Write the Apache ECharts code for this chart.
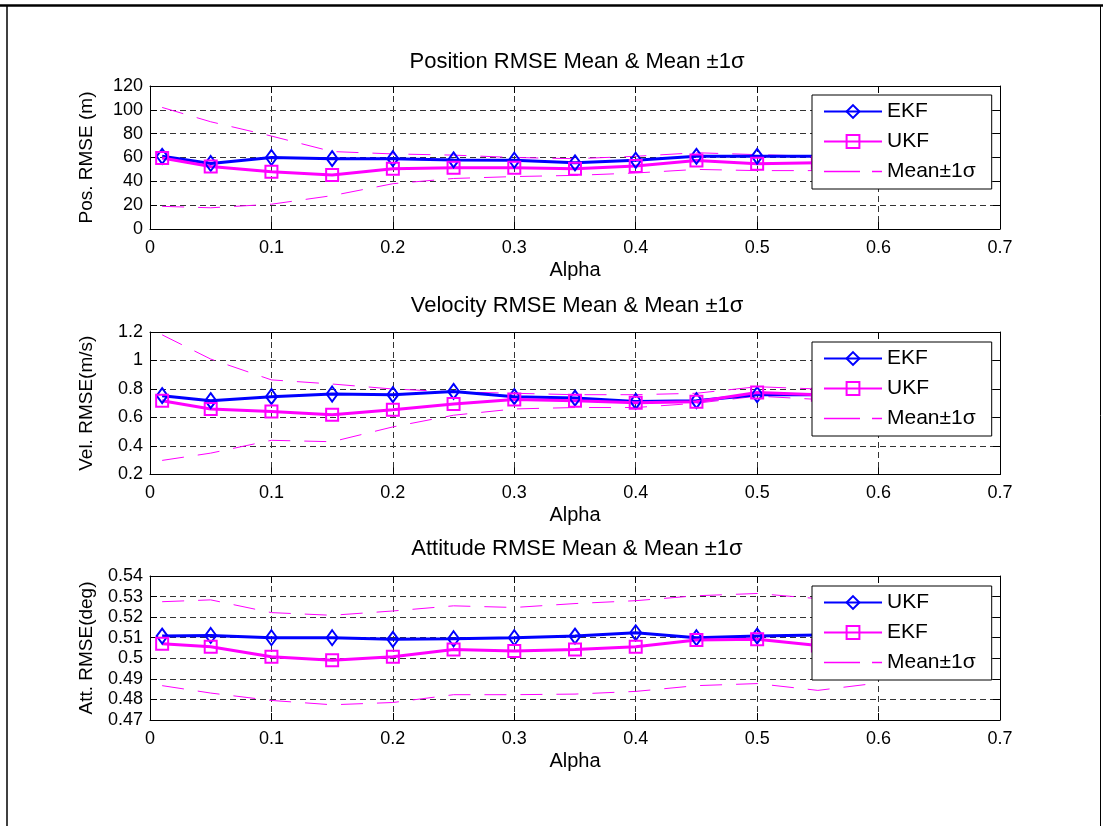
<!DOCTYPE html>
<html><head><meta charset="utf-8">
<script src="https://cdn.jsdelivr.net/npm/echarts@6/dist/echarts.min.js"></script>
<style>html,body{margin:0;padding:0;background:#fff}#c{width:1103px;height:826px}</style>
</head><body><div id="c"></div>
<script>
// ---- data ----
const alpha = [0.01,0.05,0.1,0.15,0.2,0.25,0.3,0.35,0.4,0.45,0.5,0.55,0.6];
const xTicks = [0,0.1,0.2,0.3,0.4,0.5,0.6,0.7];

const posEKF   = [61,55,60,59,59,58,57.7,55.5,57.7,61,61,61,61];
const posUKF   = [59.6,52.5,48,45.4,50.6,51.4,51.4,50.6,52.8,57.4,54.7,55.5,56];
const posUpper = [102,90,78,65,63,62,60,59,61,64,62.4,61,62];
const posLower = [19,17.8,20.8,28,38,42.4,44,45,47,50,49,49,50];
const posTicks = [0,20,40,60,80,100,120];

const velEKF   = [0.753,0.718,0.746,0.765,0.76,0.783,0.746,0.736,0.713,0.718,0.76,0.76,0.76];
const velUKF   = [0.718,0.659,0.642,0.619,0.654,0.694,0.727,0.718,0.703,0.71,0.776,0.76,0.76];
const velUpper = [1.18,1.01,0.864,0.835,0.8,0.78,0.77,0.76,0.76,0.77,0.816,0.8,0.8];
const velLower = [0.299,0.35,0.44,0.43,0.534,0.616,0.66,0.67,0.67,0.7,0.75,0.727,0.72];
const velTicks = [0.2,0.4,0.6,0.8,1,1.2];

const attUKF   = [0.5108,0.5111,0.510,0.510,0.5092,0.5095,0.510,0.5108,0.5124,0.510,0.5108,0.5113,0.5115];
const attEKF   = [0.5071,0.5056,0.5007,0.4991,0.5007,0.5043,0.5035,0.5043,0.5056,0.5089,0.5092,0.5062,0.506];
const attUpper = [0.5275,0.5284,0.5222,0.5209,0.523,0.5255,0.5247,0.5266,0.528,0.5304,0.5315,0.529,0.529];
const attLower = [0.4867,0.4831,0.4795,0.4774,0.4785,0.4823,0.4823,0.4826,0.4839,0.4867,0.4877,0.4844,0.488];
const attTicks = [0.47,0.48,0.49,0.50,0.51,0.52,0.53,0.54];

const titles = ['Position RMSE Mean & Mean \u00b11\u03c3','Velocity RMSE Mean & Mean \u00b11\u03c3','Attitude RMSE Mean & Mean \u00b11\u03c3'];
const yNames = ['Pos. RMSE (m)','Vel. RMSE(m/s)','Att. RMSE(deg)'];
const xName = 'Alpha';

// ---- layout ----
const FONT = 'Liberation Sans, Arial, sans-serif';
const grids = [
  {left:150, width:850, top:86, height:143},
  {left:150, width:850, top:332, height:142.5},
  {left:150, width:850, top:576, height:144}
];
const legendTops = [95, 342, 586];
const titleYs = [62, 306, 549];
const BLUE = '#0000ff', MAG = '#ff00ff';

const pairs = a => a.map((v,i)=>[alpha[i], v]);
const fmt = v => String(+(+v).toFixed(3));

const xAxes = [], yAxes = [], series = [], legends = [], graphics = [];
const yTicksList = [posTicks, velTicks, attTicks];
const blocks = [
  {s1:['EKF',posEKF], s2:['UKF',posUKF], up:posUpper, lo:posLower},
  {s1:['EKF',velEKF], s2:['UKF',velUKF], up:velUpper, lo:velLower},
  {s1:['UKF',attUKF], s2:['EKF',attEKF], up:attUpper, lo:attLower}
];

grids.forEach((g,i)=>{
  const yt = yTicksList[i];
  const dash = [6,4];
  xAxes.push({
    type:'value', gridIndex:i, min:xTicks[0], max:xTicks[xTicks.length-1], interval:0.1,
    position:'bottom',
    axisLine:{show:true, onZero:false, lineStyle:{color:'#000', width:1}},
    axisTick:{show:true, inside:true, length:7, lineStyle:{color:'#000'}},
    axisLabel:{color:'#000', fontSize:18, fontFamily:FONT, margin:10, formatter:fmt},
    splitLine:{show:true, lineStyle:{color:'#333', width:1, type:dash}},
    name:xName, nameLocation:'middle', nameGap:31,
    nameTextStyle:{color:'#000', fontSize:20, fontFamily:FONT}
  });
  xAxes.push({
    type:'value', gridIndex:i, min:xTicks[0], max:xTicks[xTicks.length-1], interval:0.1,
    position:'top',
    axisLine:{show:true, onZero:false, lineStyle:{color:'#000', width:1}},
    axisTick:{show:true, inside:true, length:7, lineStyle:{color:'#000'}},
    axisLabel:{show:false}, splitLine:{show:false}
  });
  const yint = +(yt[1]-yt[0]).toFixed(3);
  yAxes.push({
    type:'value', gridIndex:i, min:yt[0], max:yt[yt.length-1], interval:yint,
    position:'left',
    axisLine:{show:true, onZero:false, lineStyle:{color:'#000', width:1}},
    axisTick:{show:true, inside:true, length:7, lineStyle:{color:'#000'}},
    axisLabel:{color:'#000', fontSize:18, fontFamily:FONT, margin:7, formatter:fmt},
    splitLine:{show:true, lineStyle:{color:'#333', width:1, type:dash}},
    name:yNames[i], nameLocation:'middle', nameGap:54, nameRotate:90,
    nameTextStyle:{color:'#000', fontSize:19, fontFamily:FONT}
  });
  yAxes.push({
    type:'value', gridIndex:i, min:yt[0], max:yt[yt.length-1], interval:yint,
    position:'right',
    axisLine:{show:true, onZero:false, lineStyle:{color:'#000', width:1}},
    axisTick:{show:true, inside:true, length:7, lineStyle:{color:'#000'}},
    axisLabel:{show:false}, splitLine:{show:false}
  });
  const sfx = ' '.repeat(i);
  const b = blocks[i];
  const xi = i*2, yi = i*2;
  const sigName = 'Mean\u00b11\u03c3' + sfx;
  [b.up, b.lo].forEach(arr=>{
    series.push({
      type:'line', name:sigName, xAxisIndex:xi, yAxisIndex:yi, data:pairs(arr),
      symbol:'none', z:2, silent:true,
      itemStyle:{color:MAG},
      lineStyle:{color:MAG, width:1, type:[22,14]}
    });
  });
  const mk = (nm, arr, col, sym, size) => ({
    type:'line', name:nm+sfx, xAxisIndex:xi, yAxisIndex:yi, data:pairs(arr),
    symbol:sym, symbolSize:size, showSymbol:true, z:3,
    itemStyle:{color:'rgba(255,255,255,0)', borderColor:col, borderWidth:2},
    lineStyle:{color:col, width:3}
  });
  series.push(mk(b.s1[0], b.s1[1], BLUE, 'diamond', [11,15]));
  series.push(mk(b.s2[0], b.s2[1], MAG, 'rect', [12,12]));
  legends.push({
    orient:'vertical', left:812, top:legendTops[i],
    data:[b.s1[0]+sfx, b.s2[0]+sfx,
      {name:sigName, icon:'path://M0,0h36v1.3h-36z M48,0h10v1.3h-10z', itemStyle:{color:MAG}}],
    formatter: n => n.trim(),
    itemWidth:58, itemHeight:16, itemGap:9,
    padding:[6,16,7,11],
    backgroundColor:'#fff', borderColor:'#000', borderWidth:1, borderRadius:0,
    textStyle:{color:'#000', fontSize:21, fontFamily:FONT, lineHeight:21},
    selectedMode:false
  });
  graphics.push({
    type:'text', x:577, y:titleYs[i],
    style:{text:titles[i], fill:'#000', font:'22px '+FONT, textAlign:'center', textVerticalAlign:'middle'}
  });
});

// page frame
graphics.push({type:'line', shape:{x1:0,y1:5.5,x2:1103,y2:5.5}, style:{stroke:'#000', lineWidth:2.5}, z:10});
graphics.push({type:'line', shape:{x1:7,y1:5,x2:7,y2:826}, style:{stroke:'#000', lineWidth:1.5}, z:10});
graphics.push({type:'line', shape:{x1:1100.5,y1:5,x2:1100.5,y2:826}, style:{stroke:'#000', lineWidth:1}, z:10});

const chart = echarts.init(document.getElementById('c'), null, {renderer:'canvas'});
chart.setOption({
  animation:false,
  backgroundColor:'#fff',
  grid:grids,
  xAxis:xAxes, yAxis:yAxes,
  series:series, legend:legends, graphic:graphics
});
</script></body></html>
